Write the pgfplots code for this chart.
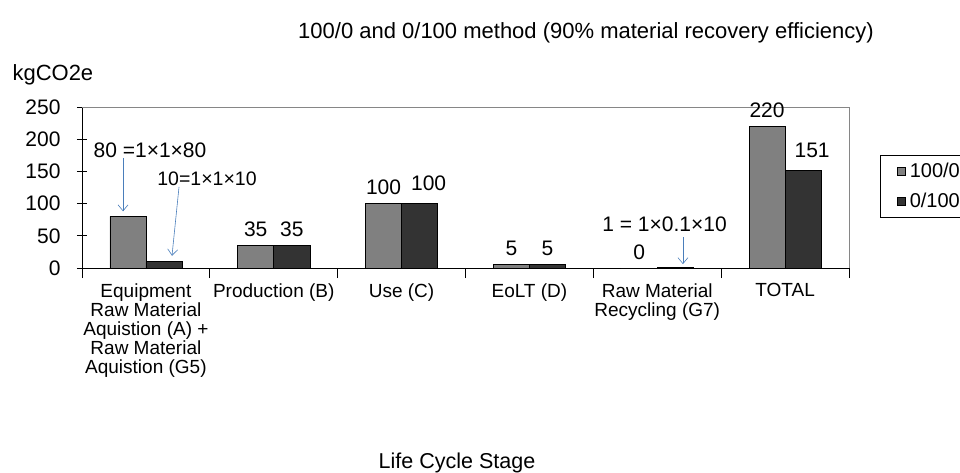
\documentclass[border=0pt]{standalone}
\usepackage{fontspec}
\setmainfont{Liberation Sans}
\usepackage{pgfplots}
\pgfplotsset{compat=1.18}
\usepackage{pgfplotstable}
\usetikzlibrary{arrows.meta}
\definecolor{barA}{HTML}{808080}
\definecolor{barB}{HTML}{333333}
\definecolor{annot}{HTML}{4A7EBB}
\definecolor{frame}{HTML}{868686}
\pgfplotstableread{
x y lab
0 80 {}
1 35 35
2 100 100
3 5 5
4 0 0
5 220 220
}\tabA
\pgfplotstableread{
x y lab
0 10 {}
1 35 35
2 100 100
3 5 5
4 1 {}
5 151 151
}\tabB
\newcommand{\fs}[1]{\fontsize{#1}{#1}\selectfont}
\begin{document}
\begin{tikzpicture}[x=1pt,y=1pt]
\useasboundingbox (0,0) rectangle (960,-473);
\begin{axis}[
  at={(82pt,-268pt)}, anchor=south west,
  scale only axis, width=767pt, height=161pt,
  xmin=-0.5, xmax=5.5, ymin=0, ymax=250,
  axis lines*=left,
  axis line style={black, line width=0.8pt},
  clip=false,
  ytick={0,50,...,250},
  major tick length=10pt,
  xtick align=center, ytick align=center,
  tick style={black, line width=0.8pt},
  yticklabel style={font=\fs{21}, xshift=-13pt},
  /pgf/number format/assume math mode=true,
  xtick={-0.5,0.5,1.5,2.5,3.5,4.5,5.5},
  xticklabels={},
  extra x ticks={0,1,2,3,4,5},
  extra x tick labels={{Equipment\\Raw Material\\Aquistion (A) +\\Raw Material\\Aquistion (G5)},
    Production (B), Use (C), EoLT (D), {Raw Material\\Recycling (G7)}, TOTAL},
  extra x tick style={major tick length=0pt, tick style={draw=none},
    xticklabel style={font=\fs{19}, align=center, anchor=north, yshift=-12pt}},
  ybar=0pt,
  bar width=0.282,
  nodes near coords={\pgfplotspointmeta},
  point meta=explicit symbolic,
  every node near coord/.append style={font=\fs{21}, anchor=south, yshift=5pt, black},
  legend style={at={(axis description cs:1.0404,0.7019)}, anchor=north west,
    draw=black, font=\fs{20}, row sep=10pt, inner xsep=5pt, inner ysep=6pt},
  legend cell align=left,
  legend image code/.code={\path (0pt,0pt) (22pt,0pt); \draw[#1] (12pt,-4pt) rectangle (20pt,4pt);},
]
\addplot[fill=barA, draw=black, line width=0.6pt] table[x=x, y=y, meta=lab] {\tabA};
\addplot[fill=barB, draw=black, line width=0.6pt,
  coordinate style/.condition={\coordindex==2 || \coordindex==5}{xshift=9pt, yshift=4pt}] table[x=x, y=y, meta=lab] {\tabB};
\legend{100/0, 0/100}
\draw[frame, line width=0.8pt] (rel axis cs:0,1) -- (rel axis cs:1,1) -- (rel axis cs:1,0);
% annotations
\node[font=\fs{21}] at (axis cs:0.032,183) {80 =1×1×80};
\draw[annot, -{Straight Barb[length=6pt,width=10pt]}, line width=0.6pt] (axis cs:-0.179,171) -- (axis cs:-0.179,88);
\node[font=\fs{19.5}] at (axis cs:0.478,138) {10=1×1×10};
\draw[annot, -{Straight Barb[length=6pt,width=10pt]}, line width=0.6pt] (axis cs:0.259,126) -- (axis cs:0.204,19);
\node[font=\fs{21}] at (axis cs:4.057,67.5) {1 = 1×0.1×10};
\draw[annot, -{Straight Barb[length=6pt,width=10pt]}, line width=0.6pt] (axis cs:4.201,48) -- (axis cs:4.201,6);
\end{axis}
\node[font=\fs{22}] at (586,-33) {100/0 and 0/100 method (90\% material recovery efficiency)};
\node[font=\fs{22}, anchor=west] at (9,-75) {kgCO2e};
\node[font=\fs{21.5}] at (457,-463) {Life Cycle Stage};
\end{tikzpicture}
\end{document}
